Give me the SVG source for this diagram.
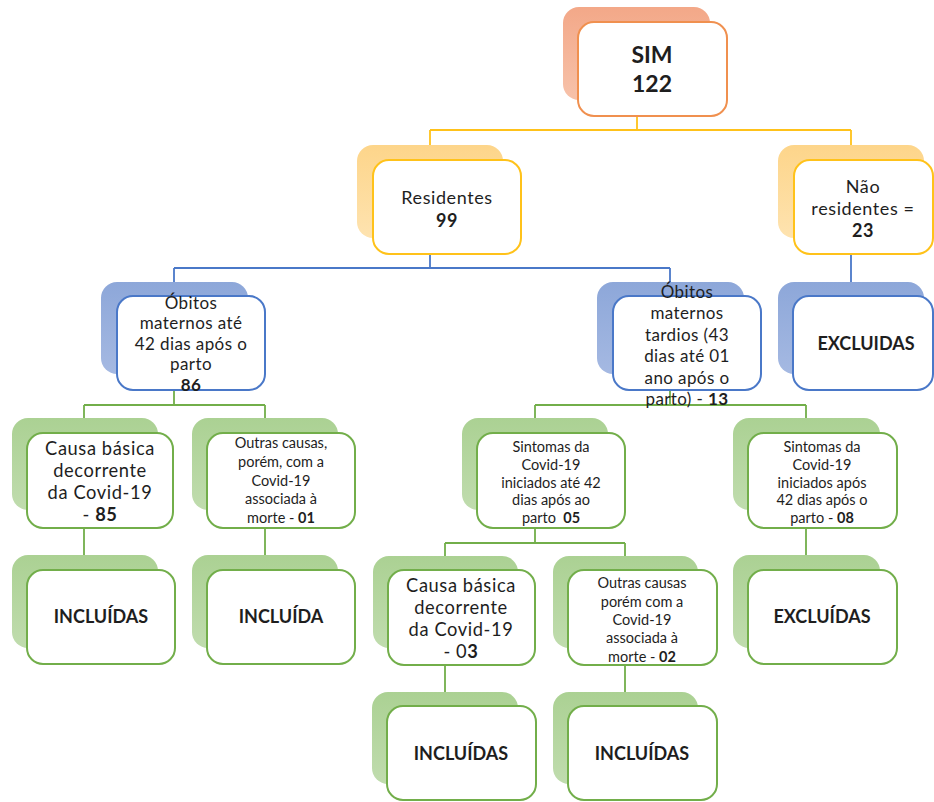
<svg xmlns="http://www.w3.org/2000/svg" width="934" height="802" viewBox="0 0 934 802">
<defs>
<linearGradient id="gO" x1="0" y1="0" x2="0" y2="1"><stop offset="0" stop-color="#f3a888"/><stop offset="1" stop-color="#f7c2aa"/></linearGradient>
<linearGradient id="gY" x1="0" y1="0" x2="0" y2="1"><stop offset="0" stop-color="#fdd58a"/><stop offset="1" stop-color="#fee3b0"/></linearGradient>
<linearGradient id="gB" x1="0" y1="0" x2="0" y2="1"><stop offset="0" stop-color="#8da7d9"/><stop offset="1" stop-color="#a5b9e2"/></linearGradient>
<linearGradient id="gG" x1="0" y1="0" x2="0" y2="1"><stop offset="0" stop-color="#abd193"/><stop offset="1" stop-color="#c0dcae"/></linearGradient>
</defs>
<style>
text{font-family:Lato,"Liberation Sans",sans-serif;fill:#1e1e1e;text-anchor:middle}
.f{fill:#fff;stroke-width:2}
.o{stroke:#f0904f}.y{stroke:#ffc21a}.b{stroke:#4a78c8}.g{stroke:#72ae4a}
.so{fill:url(#gO)}.sy{fill:url(#gY)}.sb{fill:url(#gB)}.sg{fill:url(#gG)}
.c{fill:none;stroke-width:1.8}
.t17{font-size:17px;letter-spacing:0.4px}.t18{font-size:18px;letter-spacing:0.6px}.t15{font-size:14.5px}.t20{font-size:18.3px;letter-spacing:0.6px}.bd{font-weight:bold}
.lab{font-size:18px;font-weight:bold}
</style>
<g id="connectors">
<path class="c y" d="M637,116V130M430,130H851M430,130V146M851,130V146"/>
<path class="c b" d="M430,253V268M174,268H670M174,268V283M670,268V283M851,253V283"/>
<path class="c g" d="M174,390V405M84,405H265M84,405V419M265,405V419M670,390V405M535,405H806M535,405V419M806,405V419M84,528V556M265,528V556M806,528V556M535,528V543M445,543H625M445,543V557M625,543V557M445,664V693M625,664V693"/>
</g>
<g id="sim">
<rect class="so" x="563" y="7" width="147" height="93" rx="16"/>
<rect class="f o" x="578" y="22" width="149" height="94" rx="16"/>
<text x="652" y="63" style="font-size:23px;font-weight:bold">SIM</text>
<text x="652" y="92" style="font-size:23px;font-weight:bold">122</text>
</g>
<g id="residentes">
<rect class="sy" x="357" y="145" width="146" height="93" rx="16"/>
<rect class="f y" x="373" y="160" width="148" height="94" rx="16"/>
<text class="t18" x="447" y="204">Residentes</text>
<text class="t18 bd" x="447" y="227">99</text>
</g>
<g id="nao-residentes">
<rect class="sy" x="778" y="145" width="146" height="93" rx="16"/>
<rect class="f y" x="794" y="160" width="139" height="94" rx="16"/>
<text class="t18" x="863" y="193">Não</text>
<text class="t18" x="863" y="215">residentes =</text>
<text class="t18 bd" x="863" y="237">23</text>
</g>
<g id="obitos-ate-42">
<rect class="sb" x="101" y="282" width="147" height="92" rx="16"/>
<rect class="f b" x="117" y="296" width="148" height="94" rx="16"/>
<text class="t17" x="191" y="309">Óbitos</text>
<text class="t17" x="191" y="329">maternos até</text>
<text class="t17" x="191" y="350">42 dias após o</text>
<text class="t17" x="191" y="370">parto</text>
<text class="t17 bd" x="191" y="391">86</text>
</g>
<g id="obitos-tardios">
<rect class="sb" x="597" y="282" width="147" height="92" rx="16"/>
<rect class="f b" x="613" y="296" width="148" height="94" rx="16"/>
<text class="t17" x="687" y="298">Óbitos</text>
<text class="t17" x="687" y="319">maternos</text>
<text class="t17" x="687" y="341">tardios (43</text>
<text class="t17" x="687" y="362">dias até 01</text>
<text class="t17" x="687" y="384">ano após o</text>
<text class="t17" x="687" y="405">parto) - <tspan class="bd">13</tspan></text>
</g>
<g id="excluidas-1">
<rect class="sb" x="778" y="282" width="146" height="92" rx="16"/>
<rect class="f b" x="793" y="296" width="140" height="94" rx="16"/>
<text class="lab" x="866" y="350">EXCLUIDAS</text>
</g>
<g id="causa-basica-1">
<rect class="sg" x="12" y="418" width="146" height="92" rx="16"/>
<rect class="f g" x="27" y="433" width="146" height="95" rx="16"/>
<text class="t20" x="100" y="455">Causa básica</text>
<text class="t20" x="100" y="477">decorrente</text>
<text class="t20" x="100" y="499">da Covid-19</text>
<text class="t20" x="100" y="521">- <tspan class="bd">85</tspan></text>
</g>
<g id="outras-causas-1">
<rect class="sg" x="192" y="418" width="146" height="92" rx="16"/>
<rect class="f g" x="207" y="433" width="148" height="95" rx="16"/>
<text class="t15" x="281" y="448">Outras causas,</text>
<text class="t15" x="281" y="467">porém, com a</text>
<text class="t15" x="281" y="486">Covid-19</text>
<text class="t15" x="281" y="504">associada à</text>
<text class="t15" x="281" y="523">morte - <tspan class="bd">01</tspan></text>
</g>
<g id="sintomas-ate-42">
<rect class="sg" x="462" y="418" width="146" height="92" rx="16"/>
<rect class="f g" x="477" y="433" width="148" height="95" rx="16"/>
<text class="t15" x="551" y="452">Sintomas da</text>
<text class="t15" x="551" y="470">Covid-19</text>
<text class="t15" x="551" y="488">iniciados até 42</text>
<text class="t15" x="551" y="505">dias após ao</text>
<text class="t15" x="551" y="523" xml:space="preserve">parto  <tspan class="bd">05</tspan></text>
</g>
<g id="sintomas-apos-42">
<rect class="sg" x="733" y="418" width="147" height="92" rx="16"/>
<rect class="f g" x="748" y="433" width="149" height="95" rx="16"/>
<text class="t15" x="822" y="452">Sintomas da</text>
<text class="t15" x="822" y="470">Covid-19</text>
<text class="t15" x="822" y="488">iniciados após</text>
<text class="t15" x="822" y="505">42 dias após o</text>
<text class="t15" x="822" y="523">parto - <tspan class="bd">08</tspan></text>
</g>
<g id="incluidas-1">
<rect class="sg" x="12" y="555" width="146" height="93" rx="16"/>
<rect class="f g" x="27" y="570" width="148" height="94" rx="16"/>
<text class="lab" x="101" y="623">INCLUÍDAS</text>
</g>
<g id="incluida-2">
<rect class="sg" x="192" y="555" width="146" height="93" rx="16"/>
<rect class="f g" x="207" y="570" width="148" height="94" rx="16"/>
<text class="lab" x="281" y="623">INCLUÍDA</text>
</g>
<g id="causa-basica-2">
<rect class="sg" x="373" y="556" width="145" height="92" rx="16"/>
<rect class="f g" x="388" y="570" width="147" height="95" rx="16"/>
<text class="t20" x="461" y="592">Causa básica</text>
<text class="t20" x="461" y="614">decorrente</text>
<text class="t20" x="461" y="636">da Covid-19</text>
<text class="t20" x="461" y="658">- 0<tspan class="bd">3</tspan></text>
</g>
<g id="outras-causas-2">
<rect class="sg" x="553" y="556" width="145" height="92" rx="16"/>
<rect class="f g" x="568" y="570" width="149" height="95" rx="16"/>
<text class="t15" x="642" y="588">Outras causas</text>
<text class="t15" x="642" y="607">porém com a</text>
<text class="t15" x="642" y="625">Covid-19</text>
<text class="t15" x="642" y="643">associada à</text>
<text class="t15" x="642" y="662">morte - <tspan class="bd">02</tspan></text>
</g>
<g id="excluidas-2">
<rect class="sg" x="733" y="555" width="147" height="93" rx="16"/>
<rect class="f g" x="748" y="570" width="149" height="94" rx="16"/>
<text class="lab" x="822" y="623">EXCLUÍDAS</text>
</g>
<g id="incluidas-3">
<rect class="sg" x="372" y="692" width="146" height="92" rx="16"/>
<rect class="f g" x="387" y="706" width="149" height="94" rx="16"/>
<text class="lab" x="461" y="760">INCLUÍDAS</text>
</g>
<g id="incluidas-4">
<rect class="sg" x="553" y="692" width="145" height="92" rx="16"/>
<rect class="f g" x="568" y="706" width="149" height="94" rx="16"/>
<text class="lab" x="642" y="760">INCLUÍDAS</text>
</g>
</svg>
